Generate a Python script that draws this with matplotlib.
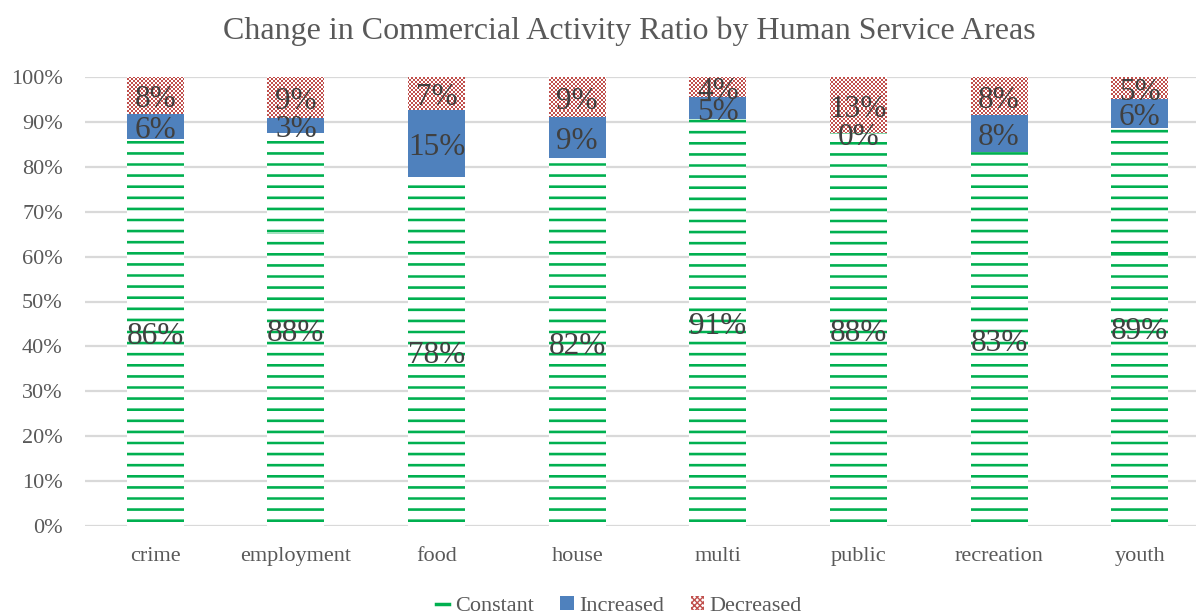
import numpy as np
import matplotlib
matplotlib.use("Agg")
import matplotlib.pyplot as plt
from matplotlib.lines import Line2D
from matplotlib.patches import Patch
from decimal import Decimal, ROUND_HALF_UP

# ---- data -------------------------------------------------------------
categories = ["crime", "employment", "food", "house", "multi", "public",
              "recreation", "youth"]
constant = [86.2, 87.6, 77.8, 82.0, 90.6, 87.5, 83.3, 88.7]
increased = [5.6, 3.3, 14.8, 9.0, 5.0, 0.0, 8.3, 6.3]
decreased = [8.2, 9.1, 7.4, 9.0, 4.4, 12.5, 8.4, 5.0]
y_ticks = [0, 10, 20, 30, 40, 50, 60, 70, 80, 90, 100]
title = "Change in Commercial Activity Ratio by Human Service Areas"

# ---- style ------------------------------------------------------------
W, H, DPI = 1196, 615, 100
plt.rcParams["font.family"] = ["Liberation Serif", "DejaVu Serif"]
GREEN = "#00b050"
BLUE = "#4f81bd"
RED = "#c0504d"
GRID = "#d9d9d9"
TXT = "#595959"
LBL = "#404040"

fig = plt.figure(figsize=(W / DPI, H / DPI), dpi=DPI)
ax_l, ax_r, ax_b, ax_t = 85, 1210, 526, 77
ax = fig.add_axes([ax_l / W, (H - ax_b) / H, (ax_r - ax_l) / W, (ax_b - ax_t) / H])

x = np.arange(len(categories))
width = 0.405
const = np.array(constant)
inc = np.array(increased)
dec = np.array(decreased)

# fill textures laid out in axes pixel space (row 0 = bottom)
pw, ph = ax_r - ax_l, ax_b - ax_t
ss = 8
sub = (np.arange(ph * ss) + 0.5) / ss
cover = (((sub - 4.0) % 11.1) < 2.6).reshape(ph, ss).mean(axis=1)[:, None, None]
white = np.ones(4)
g = np.array(matplotlib.colors.to_rgba(GREEN))
stripe_img = np.broadcast_to(white * (1 - cover) + g * cover, (ph, pw, 4)).copy()

rows = np.arange(ph)[:, None]
cols = np.arange(pw)[None, :]
r = np.array(matplotlib.colors.to_rgba(RED))
checker = ((rows // 2 + cols // 2) % 2) == 0
checker_img = np.ones((ph, pw, 4))
checker_img[checker] = r

b_const = ax.bar(x, const, width, facecolor="none", edgecolor="none", zorder=3)
b_inc = ax.bar(x, inc, width, bottom=const, color=BLUE, edgecolor="none", zorder=3)
b_dec = ax.bar(x, dec, width, bottom=const + inc, facecolor="none",
               edgecolor="none", zorder=3)

extent = (-0.5, len(categories) - 0.5, 0, 100)
for bars, img in ((b_const, stripe_img), (b_dec, checker_img)):
    for patch in bars:
        im = ax.imshow(img, extent=extent, origin="lower", aspect="auto",
                       interpolation="nearest", zorder=2.5)
        im.set_clip_path(patch)


def pct(v):
    return str(Decimal(str(v)).quantize(Decimal("1"), rounding=ROUND_HALF_UP)) + "%"


for bars, vals in ((b_const, const), (b_inc, inc), (b_dec, dec)):
    texts = ax.bar_label(bars, labels=[pct(v) for v in vals], label_type="center",
                         fontsize=22.5, color=LBL, zorder=5)
    for t in texts:
        t.xyann = (0, -3)

ax.set_xlim(-0.5, len(categories) - 0.5)
ax.set_ylim(0, 100)
ax.set_yticks(y_ticks)
ax.set_yticklabels([f"{t}%" for t in y_ticks])
ax.set_xticks(x)
ax.set_xticklabels(categories)
ax.tick_params(axis="both", length=0, labelsize=16, labelcolor=TXT)
ax.tick_params(axis="y", pad=16)
ax.tick_params(axis="x", pad=15)
ax.yaxis.grid(True, color=GRID, linewidth=1.6, zorder=0)
ax.set_axisbelow(True)
for s in ax.spines.values():
    s.set_visible(False)

fig.text(629.5 / W, 1 - 31 / H, title, ha="center", va="center",
         fontsize=23, color=TXT)

handles = [
    Line2D([0], [0], color=GREEN, lw=2.5),
    Patch(facecolor=BLUE, edgecolor="none"),
    Patch(facecolor="white", edgecolor=RED, hatch="xxxxxx", linewidth=0),
]
fig.legend(handles, ["Constant", "Increased", "Decreased"], loc="center",
           bbox_to_anchor=(619 / W, 1 - 606 / H), ncol=3, frameon=False,
           fontsize=16, labelcolor=TXT, handlelength=0.6, handleheight=0.6,
           handletextpad=0.25, columnspacing=1.2)

fig.savefig("out.png", dpi=DPI)
